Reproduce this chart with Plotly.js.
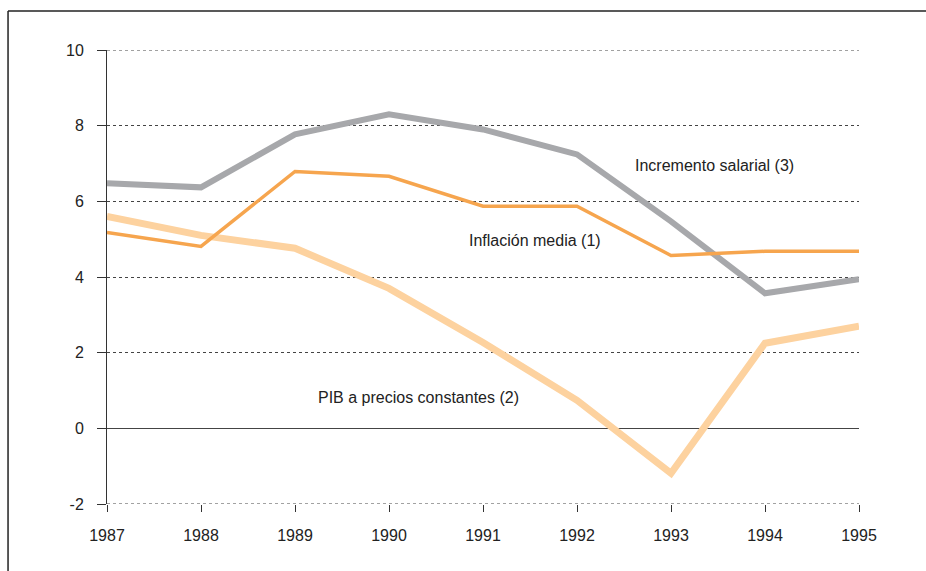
<!DOCTYPE html>
<html>
<head>
<meta charset="utf-8">
<script src="https://cdn.plot.ly/plotly-3.0.1.min.js"></script>
<style>
  html, body { margin: 0; padding: 0; background: #fff; }
  #plotArea { width: 926px; height: 571px; }
</style>
</head>
<body>
<div id="plotArea"></div>
<script>
// years on the x axis
var years = [1987, 1988, 1989, 1990, 1991, 1992, 1993, 1994, 1995];

// series
var salarios = [6.48, 6.37, 7.77, 8.30, 7.90, 7.24, 5.47, 3.57, 3.94];
var inflacion = [5.18, 4.81, 6.79, 6.66, 5.87, 5.87, 4.57, 4.68, 4.68];
var pib = [5.60, 5.10, 4.76, 3.70, 2.27, 0.74, -1.19, 2.25, 2.70];

var yTicks = [-2, 0, 2, 4, 6, 8, 10];
var yTickText = ["-2", "0", "2", "4", "6", "8", "10"];

// line labels
var labelText = ["Incremento salarial (3)", "Inflación media (1)", "PIB a precios constantes (2)"];
var labelX = [1993.46, 1991.55, 1990.31];
var labelY = [6.95, 4.97, 0.82];

var pibTrace = {
    x: years, y: pib,
    mode: "lines", type: "scatter",
    line: {color: "#fdd29f", width: 7}
};
var salTrace = {
    x: years, y: salarios,
    mode: "lines", type: "scatter",
    line: {color: "#a7a8ab", width: 6}
};
var infTrace = {
    x: years, y: inflacion,
    mode: "lines", type: "scatter",
    line: {color: "#f6a54e", width: 3.5}
};

var annotations = labelText.map(function(t, i) {
    return {
        x: labelX[i], y: labelY[i], text: t,
        showarrow: false, xanchor: "center", yanchor: "middle",
        font: {family: "Liberation Sans, Arial, sans-serif", size: 16, color: "#222"}
    };
});

// dotted grid lines at the range edges, which plotly leaves out
var edgeGrid = [yTicks[0], yTicks[yTicks.length - 1]].map(function(v) {
    return {type: "line", xref: "paper", yref: "y", x0: 0, x1: 1, y0: v, y1: v,
            layer: "below", line: {color: "#444", width: 1, dash: "3px,3px"}};
});

var layout = {
    width: 926, height: 571,
    margin: {l: 107, r: 67, t: 50, b: 67},
    paper_bgcolor: "#fff", plot_bgcolor: "#fff",
    showlegend: false,
    font: {family: "Liberation Sans, Arial, sans-serif", size: 16, color: "#222"},
    xaxis: {
        range: [1987, 1995],
        tickvals: years,
        ticktext: years.map(String),
        ticks: "outside", ticklen: 7, tickcolor: "#333", tickwidth: 1,
        showgrid: false, showline: false, zeroline: false,
        ticklabelstandoff: 10
    },
    yaxis: {
        range: [-2, 10],
        tickvals: yTicks,
        ticktext: yTickText,
        ticks: "outside", ticklen: 9, tickcolor: "#333", tickwidth: 1,
        showgrid: true, gridcolor: "#444", gridwidth: 1, griddash: "3px,3px",
        zeroline: true, zerolinecolor: "#444", zerolinewidth: 1,
        showline: true, linecolor: "#333", linewidth: 1,
        ticklabelstandoff: 10
    },
    annotations: annotations,
    shapes: edgeGrid.concat([
        // frame: top and left edges
        {type: "line", xref: "paper", yref: "paper", x0: -0.1316, x1: 1.09, y0: 1.0859, y1: 1.0859,
         line: {color: "#222", width: 1.5}},
        {type: "line", xref: "paper", yref: "paper", x0: -0.1316, x1: -0.1316, y0: 1.0859, y1: -0.16,
         line: {color: "#222", width: 1.5}}
    ])
};

Plotly.newPlot("plotArea", [pibTrace, salTrace, infTrace], layout, {displayModeBar: false, staticPlot: true});
</script>
</body>
</html>
